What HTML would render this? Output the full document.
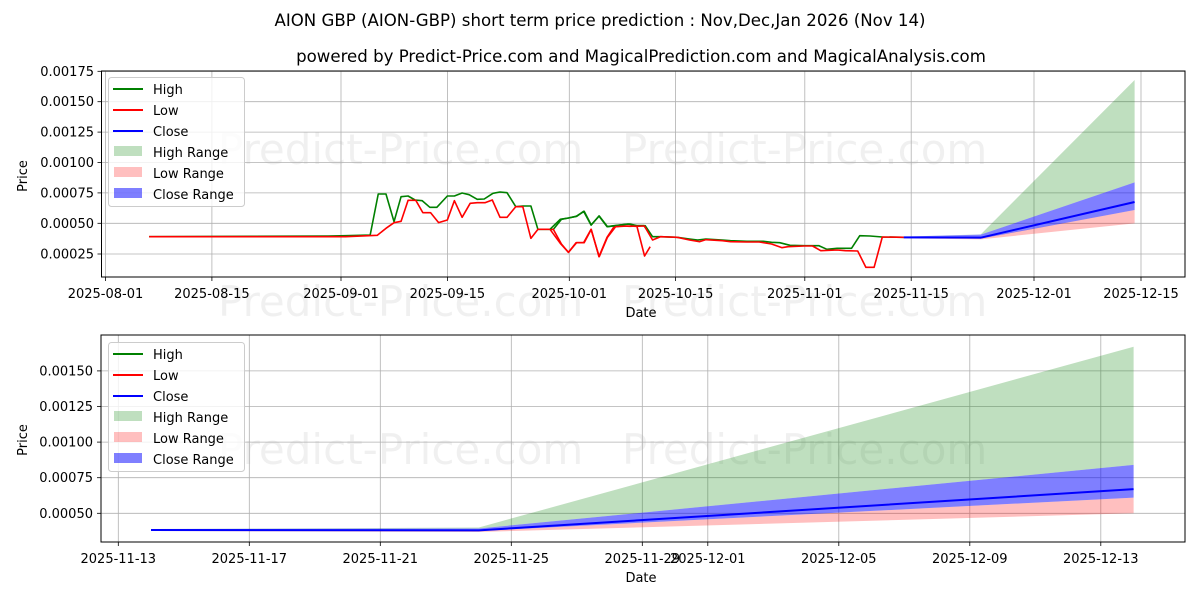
<!DOCTYPE html>
<html><head><meta charset="utf-8"><style>
body{margin:0;background:#fff}
svg{display:block;font-family:"DejaVu Sans","Liberation Sans",sans-serif}
</style></head><body>
<svg width="1200" height="600" viewBox="0 0 1200 600" xmlns="http://www.w3.org/2000/svg">
<rect width="1200" height="600" fill="#fff"/>
<text x="600" y="26" font-size="16.6" text-anchor="middle">AION GBP (AION-GBP) short term price prediction : Nov,Dec,Jan 2026 (Nov 14)</text>
<text x="641" y="62" font-size="16.6" text-anchor="middle">powered by Predict-Price.com and MagicalPrediction.com and MagicalAnalysis.com</text>

<g font-size="42" fill="#000" fill-opacity="0.06">
<text x="218" y="164">Predict-Price.com</text>
<text x="622" y="164">Predict-Price.com</text>
<text x="218" y="316">Predict-Price.com</text>
<text x="622" y="316">Predict-Price.com</text>
<text x="218" y="464">Predict-Price.com</text>
<text x="622" y="464">Predict-Price.com</text>
</g>

<g stroke="#b0b0b0" stroke-width="0.8">
<line x1="105.5" y1="71" x2="105.5" y2="277"/><line x1="211.9" y1="71" x2="211.9" y2="277"/>
<line x1="341" y1="71" x2="341" y2="277"/><line x1="447.4" y1="71" x2="447.4" y2="277"/>
<line x1="569.3" y1="71" x2="569.3" y2="277"/><line x1="675.6" y1="71" x2="675.6" y2="277"/>
<line x1="804.8" y1="71" x2="804.8" y2="277"/><line x1="911.2" y1="71" x2="911.2" y2="277"/>
<line x1="1034" y1="71" x2="1034" y2="277"/><line x1="1141" y1="71" x2="1141" y2="277"/>
<line x1="101.5" y1="254" x2="1185" y2="254"/><line x1="101.5" y1="223.3" x2="1185" y2="223.3"/>
<line x1="101.5" y1="192.9" x2="1185" y2="192.9"/><line x1="101.5" y1="162.5" x2="1185" y2="162.5"/>
<line x1="101.5" y1="132.1" x2="1185" y2="132.1"/><line x1="101.5" y1="101.7" x2="1185" y2="101.7"/>
<line x1="101.5" y1="71.3" x2="1185" y2="71.3"/>
</g>
<g transform="translate(550,60) scale(0.41026,0.33333)">
<polygon fill="rgb(0,128,0)" fill-opacity="0.25" points="862,530 1050,523 1425,60 1425,367 1050,524 862,530"/>
<polygon fill="rgb(255,0,0)" fill-opacity="0.25" points="862,533 1050,535 1425,450 1425,490 1050,538 862,535"/>
<polygon fill="rgb(0,0,255)" fill-opacity="0.5" points="862,530 1050,524 1425,367 1425,450 1050,536 862,534"/>
<polyline fill="none" stroke="#00f" stroke-width="2" vector-effect="non-scaling-stroke" points="862,532 1050,533 1425,426"/>
</g>
<g transform="translate(100,60) scale(0.35088,0.33333)" fill="none" stroke-width="1.6" stroke-linejoin="round">
<polyline vector-effect="non-scaling-stroke" stroke="#008000" points="140,530 650,528 700,527 770,525 793,402 815,402 838,485 858,410 878,408 898,420 918,422 940,442 960,442 990,408 1010,408 1032,399 1052,404 1075,418 1095,417 1120,400 1140,396 1160,398 1185,440 1205,438 1228,438 1248,508 1292,508 1315,478 1335,474 1357,469 1380,454 1400,495 1422,468 1445,500 1465,497 1490,494 1510,492 1530,497 1550,497 1568,522"/>
<polyline vector-effect="non-scaling-stroke" stroke="#f00" points="140,530 700,530 790,526 815,505 838,488 858,484 878,421 900,421 920,458 942,458 965,488 990,480 1010,422 1032,472 1055,430 1075,428 1098,428 1118,420 1140,472 1160,472 1185,440 1205,440 1228,535 1248,508 1292,508 1315,552 1335,577 1357,548 1380,548 1400,508 1422,590 1445,532 1465,500 1490,498 1510,499 1530,498 1552,588 1568,560"/>
</g>
<g transform="translate(550,60) scale(0.41026,0.33333)" fill="none" stroke-width="1.6" stroke-linejoin="round">
<polyline vector-effect="non-scaling-stroke" stroke="#008000" points="0,508 25,478 45,474 65,469 82,454 100,495 120,468 140,500 160,497 190,492 210,497 232,497 250,530 270,530 310,532 340,537 360,540 380,537 420,540 440,542 480,544 520,544 540,547 560,548 585,556 620,557 655,557 675,568 700,565 735,565 755,527 780,528 810,531 862,532"/>
<polyline vector-effect="non-scaling-stroke" stroke="#f00" points="0,508 25,550 45,577 65,548 82,548 100,508 120,590 140,532 160,500 190,498 210,499 230,498 250,540 270,530 310,532 340,540 365,545 380,539 420,542 440,545 480,546 510,546 540,552 565,563 580,560 620,558 640,558 660,572 700,570 720,572 750,573 770,622 790,622 810,531 862,532"/>
</g>
<rect x="101.5" y="71" width="1083.5" height="206" fill="none" stroke="#000" stroke-width="1"/>
<g stroke="#000" stroke-width="0.8">
<line x1="105.5" y1="277" x2="105.5" y2="281"/><line x1="211.9" y1="277" x2="211.9" y2="281"/>
<line x1="341" y1="277" x2="341" y2="281"/><line x1="447.4" y1="277" x2="447.4" y2="281"/>
<line x1="569.3" y1="277" x2="569.3" y2="281"/><line x1="675.6" y1="277" x2="675.6" y2="281"/>
<line x1="804.8" y1="277" x2="804.8" y2="281"/><line x1="911.2" y1="277" x2="911.2" y2="281"/>
<line x1="1034" y1="277" x2="1034" y2="281"/><line x1="1141" y1="277" x2="1141" y2="281"/>
<line x1="97.5" y1="254" x2="101.5" y2="254"/><line x1="97.5" y1="223.3" x2="101.5" y2="223.3"/>
<line x1="97.5" y1="192.9" x2="101.5" y2="192.9"/><line x1="97.5" y1="162.5" x2="101.5" y2="162.5"/>
<line x1="97.5" y1="132.1" x2="101.5" y2="132.1"/><line x1="97.5" y1="101.7" x2="101.5" y2="101.7"/>
<line x1="97.5" y1="71.3" x2="101.5" y2="71.3"/>
</g>
<g font-size="13" text-anchor="middle">
<text x="105.5" y="298">2025-08-01</text><text x="211.9" y="298">2025-08-15</text>
<text x="341" y="298">2025-09-01</text><text x="447.4" y="298">2025-09-15</text>
<text x="569.3" y="298">2025-10-01</text><text x="675.6" y="298">2025-10-15</text>
<text x="804.8" y="298">2025-11-01</text><text x="911.2" y="298">2025-11-15</text>
<text x="1034" y="298">2025-12-01</text><text x="1141" y="298">2025-12-15</text>
<text x="641" y="317">Date</text>
</g>
<g font-size="13" text-anchor="end">
<text x="94" y="258.5">0.00025</text><text x="94" y="227.8">0.00050</text>
<text x="94" y="197.4">0.00075</text><text x="94" y="167">0.00100</text>
<text x="94" y="136.6">0.00125</text><text x="94" y="106.2">0.00150</text>
<text x="94" y="75.8">0.00175</text>
</g>
<text transform="translate(27,176) rotate(-90)" font-size="13" text-anchor="middle">Price</text>
<rect x="108.5" y="77.5" width="136" height="129" rx="3" fill="#fff" fill-opacity="0.8" stroke="#ccc"/>
<g font-size="13">
<line x1="113" y1="89" x2="143" y2="89" stroke="#008000" stroke-width="2"/><text x="153" y="94">High</text>
<line x1="113" y1="110" x2="143" y2="110" stroke="#f00" stroke-width="2"/><text x="153" y="115">Low</text>
<line x1="113" y1="131" x2="143" y2="131" stroke="#00f" stroke-width="2"/><text x="153" y="136">Close</text>
<rect x="114" y="146" width="28" height="10" fill="rgb(0,128,0)" fill-opacity="0.25"/><text x="153" y="157">High Range</text>
<rect x="114" y="167" width="28" height="10" fill="rgb(255,0,0)" fill-opacity="0.25"/><text x="153" y="178">Low Range</text>
<rect x="114" y="188" width="28" height="10" fill="rgb(0,0,255)" fill-opacity="0.5"/><text x="153" y="199">Close Range</text>
</g>

<g stroke="#b0b0b0" stroke-width="0.8">
<line x1="118.3" y1="335" x2="118.3" y2="542"/><line x1="249.3" y1="335" x2="249.3" y2="542"/>
<line x1="380.3" y1="335" x2="380.3" y2="542"/><line x1="511.3" y1="335" x2="511.3" y2="542"/>
<line x1="642.3" y1="335" x2="642.3" y2="542"/><line x1="707.8" y1="335" x2="707.8" y2="542"/>
<line x1="838.8" y1="335" x2="838.8" y2="542"/><line x1="969.8" y1="335" x2="969.8" y2="542"/>
<line x1="1100.8" y1="335" x2="1100.8" y2="542"/>
<line x1="101" y1="513.3" x2="1185" y2="513.3"/><line x1="101" y1="477.7" x2="1185" y2="477.7"/>
<line x1="101" y1="442.1" x2="1185" y2="442.1"/><line x1="101" y1="406.5" x2="1185" y2="406.5"/>
<line x1="101" y1="370.9" x2="1185" y2="370.9"/>
</g>
<polygon fill="rgb(0,128,0)" fill-opacity="0.25" points="151,529 478.8,527.5 1133.6,346.7 1133.6,464.9 478.8,528.5 151,529"/>
<polygon fill="rgb(255,0,0)" fill-opacity="0.25" points="151,530.5 478.8,531 1133.6,497.6 1133.6,513.3 478.8,532 151,531"/>
<polygon fill="rgb(0,0,255)" fill-opacity="0.5" points="151,529 478.8,528.5 1133.6,464.9 1133.6,497.6 478.8,531 151,531"/>
<polyline fill="none" stroke="#00f" stroke-width="2" points="151,530 478.8,530.4 1133.6,489.1"/>
<rect x="101" y="335" width="1084" height="207" fill="none" stroke="#000" stroke-width="1"/>
<g stroke="#000" stroke-width="0.8">
<line x1="118.3" y1="542" x2="118.3" y2="546"/><line x1="249.3" y1="542" x2="249.3" y2="546"/>
<line x1="380.3" y1="542" x2="380.3" y2="546"/><line x1="511.3" y1="542" x2="511.3" y2="546"/>
<line x1="642.3" y1="542" x2="642.3" y2="546"/><line x1="707.8" y1="542" x2="707.8" y2="546"/>
<line x1="838.8" y1="542" x2="838.8" y2="546"/><line x1="969.8" y1="542" x2="969.8" y2="546"/>
<line x1="1100.8" y1="542" x2="1100.8" y2="546"/>
<line x1="97" y1="513.3" x2="101" y2="513.3"/><line x1="97" y1="477.7" x2="101" y2="477.7"/>
<line x1="97" y1="442.1" x2="101" y2="442.1"/><line x1="97" y1="406.5" x2="101" y2="406.5"/>
<line x1="97" y1="370.9" x2="101" y2="370.9"/>
</g>
<g font-size="13" text-anchor="middle">
<text x="118.3" y="563">2025-11-13</text><text x="249.3" y="563">2025-11-17</text>
<text x="380.3" y="563">2025-11-21</text><text x="511.3" y="563">2025-11-25</text>
<text x="642.3" y="563">2025-11-29</text><text x="707.8" y="563">2025-12-01</text>
<text x="838.8" y="563">2025-12-05</text><text x="969.8" y="563">2025-12-09</text>
<text x="1100.8" y="563">2025-12-13</text>
<text x="641" y="582">Date</text>
</g>
<g font-size="13" text-anchor="end">
<text x="93" y="517.8">0.00050</text><text x="93" y="482.2">0.00075</text>
<text x="93" y="446.6">0.00100</text><text x="93" y="411">0.00125</text>
<text x="93" y="375.4">0.00150</text>
</g>
<text transform="translate(27,440) rotate(-90)" font-size="13" text-anchor="middle">Price</text>
<rect x="108.5" y="342.5" width="136" height="129" rx="3" fill="#fff" fill-opacity="0.8" stroke="#ccc"/>
<g font-size="13">
<line x1="113" y1="354" x2="143" y2="354" stroke="#008000" stroke-width="2"/><text x="153" y="359">High</text>
<line x1="113" y1="375" x2="143" y2="375" stroke="#f00" stroke-width="2"/><text x="153" y="380">Low</text>
<line x1="113" y1="396" x2="143" y2="396" stroke="#00f" stroke-width="2"/><text x="153" y="401">Close</text>
<rect x="114" y="411" width="28" height="10" fill="rgb(0,128,0)" fill-opacity="0.25"/><text x="153" y="422">High Range</text>
<rect x="114" y="432" width="28" height="10" fill="rgb(255,0,0)" fill-opacity="0.25"/><text x="153" y="443">Low Range</text>
<rect x="114" y="453" width="28" height="10" fill="rgb(0,0,255)" fill-opacity="0.5"/><text x="153" y="464">Close Range</text>
</g>
</svg>
</body></html>
